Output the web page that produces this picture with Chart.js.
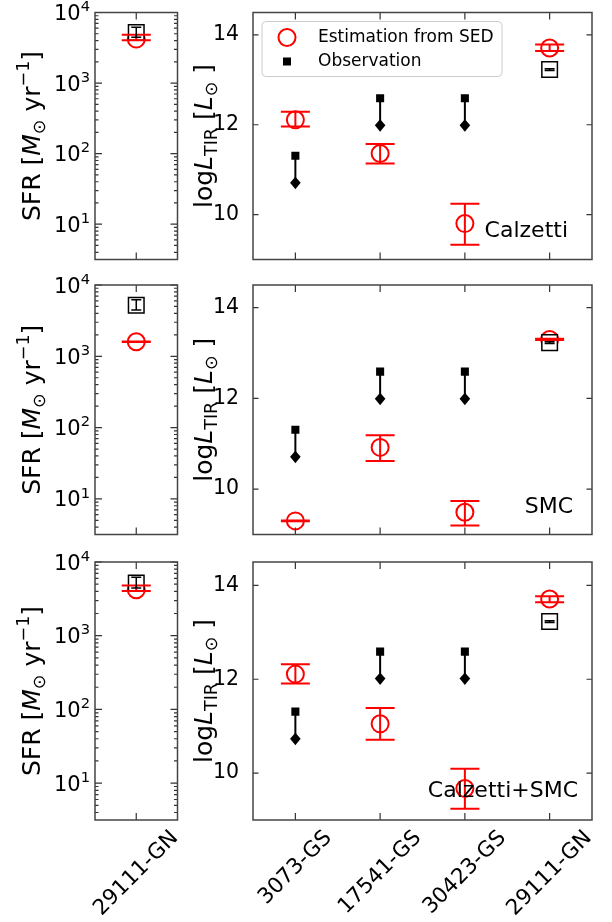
<!DOCTYPE html>
<html>
<head>
<meta charset="utf-8">
<script src="https://cdn.jsdelivr.net/npm/chart.js@4.4.0/dist/chart.umd.min.js"></script>
<style>
  html, body { margin: 0; padding: 0; background: #fff; }
  #page { position: relative; width: 612px; height: 922px; overflow: hidden; }
  canvas { position: absolute; display: block; }
</style>
</head>
<body>
<div id="page">
  <canvas id="sfr0" width="190" height="272" style="left:0;top:0"></canvas>
  <canvas id="tir0" width="422" height="272" style="left:190px;top:0"></canvas>
  <canvas id="sfr1" width="190" height="277" style="left:0;top:270px"></canvas>
  <canvas id="tir1" width="422" height="277" style="left:190px;top:270px"></canvas>
  <canvas id="sfr2" width="190" height="375" style="left:0;top:547px"></canvas>
  <canvas id="tir2" width="422" height="375" style="left:190px;top:547px"></canvas>
</div>
<script>
// galaxies and dust models
const galaxies = ['3073-GS', '17541-GS', '30423-GS', '29111-GN'];
const sfrGalaxy = ['29111-GN'];
const modelNames = ['Calzetti', 'SMC', 'Calzetti+SMC'];

// log L_TIR from the SED fit (value, lower, upper)
const tirCalzetti   = [12.11, 11.36, 9.80, 13.71];
const tirCalzettiLo = [11.96, 11.14, 9.33, 13.64];
const tirCalzettiHi = [12.29, 11.57, 10.24, 13.79];
const tirSMC   = [9.30, 10.92, 9.49, 13.30];
const tirSMCLo = [9.29, 10.62, 9.20, 13.285];
const tirSMCHi = [9.31, 11.19, 9.74, 13.315];
const tirCalSMC   = [12.11, 11.05, 9.67, 13.71];
const tirCalSMCLo = [11.91, 10.71, 9.24, 13.64];
const tirCalSMCHi = [12.32, 11.39, 10.09, 13.77];

// observed L_TIR: upper limits, and a detection for 29111-GN
const tirObsLimit = [11.31, 12.59, 12.59, null];
const tirObs   = [null, null, null, 13.23];
const tirObsLo = [null, null, null, 13.21];
const tirObsHi = [null, null, null, 13.25];

// SFR of 29111-GN
const sfrObs   = [5200];
const sfrObsLo = [4450];
const sfrObsHi = [6200];
const sfrCalzetti   = [4200];
const sfrCalzettiLo = [4050];
const sfrCalzettiHi = [4850];
const sfrSMC   = [1600];
const sfrSMCLo = [1590];
const sfrSMCHi = [1610];
const sfrCalSMC   = [4200];
const sfrCalSMCLo = [4050];
const sfrCalSMCHi = [4800];

const tirTicks = [10, 12, 14];
const sfrTicks = [10, 100, 1000, 10000];

const FONT = "'DejaVu Sans', sans-serif";
const RED = '#ff0000';
Chart.defaults.font.family = FONT;
Chart.defaults.color = '#000';

function pts(labels, vals, lo, hi) {
  const out = [];
  labels.forEach((l, i) => {
    if (vals[i] == null) return;
    out.push({ x: l, y: vals[i], lo: lo ? lo[i] : null, hi: hi ? hi[i] : null });
  });
  return out;
}

function runFont(r, size) {
  const px = (r.s === 'sub' || r.s === 'sup') ? size * 0.7 : size;
  return (r.s === 'i' ? 'italic ' : '') + px + 'px ' + FONT;
}
function drawRich(ctx, runs, x, y, size, align) {
  let w = 0;
  runs.forEach(r => { ctx.font = runFont(r, size); w += ctx.measureText(r.t).width; });
  let cx = align === 'right' ? x - w : align === 'center' ? x - w / 2 : x;
  ctx.textAlign = 'left';
  ctx.textBaseline = 'alphabetic';
  runs.forEach(r => {
    ctx.font = runFont(r, size);
    const dy = r.s === 'sub' ? 0.22 * size : r.s === 'sup' ? -0.42 * size : 0;
    ctx.fillText(r.t, cx, y + dy);
    cx += ctx.measureText(r.t).width;
  });
}

// error bars and upper-limit arrows
const errorBars = {
  id: 'errorBars',
  afterDatasetsDraw(chart) {
    const { ctx } = chart;
    const ys = chart.scales.y;
    ctx.save();
    chart.data.datasets.forEach((ds, i) => {
      const meta = chart.getDatasetMeta(i);
      if (ds.capHalf) {
        ctx.strokeStyle = ds.borderColor;
        ctx.lineWidth = ds.errWidth;
        meta.data.forEach((el, j) => {
          const d = ds.data[j];
          const y1 = ys.getPixelForValue(d.lo), y2 = ys.getPixelForValue(d.hi);
          ctx.beginPath();
          ctx.moveTo(el.x, y1); ctx.lineTo(el.x, y2);
          ctx.moveTo(el.x - ds.capHalf, y1); ctx.lineTo(el.x + ds.capHalf, y1);
          ctx.moveTo(el.x - ds.capHalf, y2); ctx.lineTo(el.x + ds.capHalf, y2);
          ctx.stroke();
        });
      }
      if (ds.arrow) {
        ctx.strokeStyle = '#000';
        ctx.fillStyle = '#000';
        ctx.lineWidth = 2;
        meta.data.forEach(el => {
          const tip = el.y + ds.arrow;
          ctx.beginPath();
          ctx.moveTo(el.x, el.y); ctx.lineTo(el.x, tip);
          ctx.stroke();
          ctx.beginPath();
          ctx.moveTo(el.x, tip - 6); ctx.lineTo(el.x + 5.3, tip);
          ctx.lineTo(el.x, tip + 6.5); ctx.lineTo(el.x - 5.3, tip);
          ctx.closePath(); ctx.fill();
        });
      }
    });
    ctx.restore();
  }
};

// frame, inward ticks, rich labels, note, legend
function makeDecor(cfg) {
  return {
    id: 'decor',
    afterDraw(chart) {
      const { ctx, chartArea: a } = chart;
      const xs = chart.scales.x, ys = chart.scales.y;
      ctx.save();
      ctx.strokeStyle = '#333';
      ctx.lineWidth = 1.2;
      ctx.beginPath();
      xs.ticks.forEach((t, i) => {
        const px = xs.getPixelForTick(i);
        ctx.moveTo(px, a.top); ctx.lineTo(px, a.top + 7);
        ctx.moveTo(px, a.bottom); ctx.lineTo(px, a.bottom - 7);
      });
      cfg.major.forEach(v => {
        const py = ys.getPixelForValue(v);
        ctx.moveTo(a.left, py); ctx.lineTo(a.left + cfg.majorLen, py);
        ctx.moveTo(a.right, py); ctx.lineTo(a.right - cfg.majorLen, py);
      });
      (cfg.minor || []).forEach(v => {
        const py = ys.getPixelForValue(v);
        if (py < a.top || py > a.bottom) return;
        ctx.moveTo(a.left, py); ctx.lineTo(a.left + 3.5, py);
        ctx.moveTo(a.right, py); ctx.lineTo(a.right - 3.5, py);
      });
      ctx.stroke();
      ctx.strokeStyle = '#444';
      ctx.lineWidth = 1.5;
      ctx.strokeRect(a.left, a.top, a.width, a.height);

      ctx.fillStyle = '#000';
      if (cfg.logLabels) {
        cfg.major.forEach(v => {
          const py = ys.getPixelForValue(v);
          drawRich(ctx, [{ t: '10', s: 'n' }, { t: String(Math.round(Math.log10(v))), s: 'sup' }],
            a.left - 5, py + 7.5, 21, 'right');
        });
      }
      // y title
      ctx.save();
      ctx.translate(cfg.titleX, (a.top + a.bottom) / 2);
      ctx.rotate(-Math.PI / 2);
      drawRich(ctx, cfg.title, 0, 0, 25, 'center');
      ctx.restore();
      // rotated category labels
      if (cfg.xLabels) {
        ctx.font = '21.5px ' + FONT;
        ctx.textAlign = 'center';
        ctx.textBaseline = 'middle';
        xs.ticks.forEach((t, i) => {
          const lab = xs.getLabelForValue(t.value);
          const w = ctx.measureText(lab).width;
          const half = (w / 2 + 11) * Math.SQRT1_2;
          ctx.save();
          ctx.translate(xs.getPixelForTick(i), a.bottom + 7 + half);
          ctx.rotate(-Math.PI / 4);
          ctx.fillText(lab, 0, 0);
          ctx.restore();
        });
      }
      if (cfg.note) {
        ctx.font = '22px ' + FONT;
        ctx.textAlign = 'right';
        ctx.textBaseline = 'alphabetic';
        ctx.fillText(cfg.note.text, a.right - cfg.note.dx, a.bottom - cfg.note.dy);
      }
      if (cfg.legend) {
        const L = cfg.legend;
        ctx.beginPath();
        ctx.roundRect(a.left + L.x, a.top + L.y, L.w, L.h, 4);
        ctx.fillStyle = 'rgba(255,255,255,0.85)';
        ctx.fill();
        ctx.strokeStyle = '#cccccc';
        ctx.lineWidth = 1;
        ctx.stroke();
        const mx = a.left + L.x + 25, y1 = a.top + L.y + 16, y2 = a.top + L.y + 40;
        ctx.beginPath();
        ctx.arc(mx, y1, 8.5, 0, Math.PI * 2);
        ctx.strokeStyle = RED; ctx.lineWidth = 2; ctx.stroke();
        ctx.fillStyle = '#000';
        ctx.fillRect(mx - 4, y2 - 4, 8, 8);
        ctx.font = '17px ' + FONT;
        ctx.textAlign = 'left';
        ctx.textBaseline = 'middle';
        ctx.fillText(chart.data.datasets[0].label, a.left + L.x + 56, y1);
        ctx.fillText(chart.data.datasets[2].label, a.left + L.x + 56, y2);
      }
      ctx.restore();
    }
  };
}

const sfrTitle = [{ t: 'SFR [', s: 'n' }, { t: 'M', s: 'i' }, { t: '\u2299', s: 'sub' },
  { t: ' yr', s: 'n' }, { t: '\u22121', s: 'sup' }, { t: ']', s: 'n' }];
const tirTitle = [{ t: 'log', s: 'n' }, { t: 'L', s: 'i' }, { t: 'TIR', s: 'sub' },
  { t: ' [', s: 'n' }, { t: 'L', s: 'i' }, { t: '\u2299', s: 'sub' }, { t: ' ]', s: 'n' }];

const sfrMinor = [];
[1, 10, 100, 1000].forEach(d => { for (let k = 2; k <= 9; k++) sfrMinor.push(k * d); });

// canvas geometry per row: top padding and height left for the x axis
const rowGeom = [
  { padTop: 10, axisH: 4 },
  { padTop: 15, axisH: 4 },
  { padTop: 15, axisH: 102 }
];

const rows = [
  { sfr: [sfrCalzetti, sfrCalzettiLo, sfrCalzettiHi], tir: [tirCalzetti, tirCalzettiLo, tirCalzettiHi],
    note: { text: modelNames[0], dx: 24, dy: 23 }, legend: { x: 9, y: 9, w: 240, h: 55 } },
  { sfr: [sfrSMC, sfrSMCLo, sfrSMCHi], tir: [tirSMC, tirSMCLo, tirSMCHi],
    note: { text: modelNames[1], dx: 19, dy: 21.5 } },
  { sfr: [sfrCalSMC, sfrCalSMCLo, sfrCalSMCHi], tir: [tirCalSMC, tirCalSMCLo, tirCalSMCHi],
    note: { text: modelNames[2], dx: 14, dy: 23 } }
];

function datasets(labels, est, obs, limits) {
  const list = [
    { label: 'Estimation from SED', data: pts(labels, est[0], est[1], est[2]),
      pointStyle: 'circle', pointRadius: 8.5, borderColor: RED, borderWidth: 2,
      backgroundColor: 'rgba(0,0,0,0)', capHalf: 14.5, errWidth: 2, order: 2 },
    { label: 'Observation detected', data: pts(labels, obs[0], obs[1], obs[2]),
      pointStyle: 'rect', pointRadius: 11, borderColor: '#000', borderWidth: 1.5,
      backgroundColor: '#fff', capHalf: 5, errWidth: 1.5, order: 1 }
  ];
  list.push({ label: 'Observation', data: limits ? pts(labels, limits) : [],
    pointStyle: 'rect', pointRadius: 5.7, borderWidth: 0, borderColor: '#000',
    backgroundColor: '#000', arrow: 27, order: 1 });
  return list;
}

function baseOptions(labels, yScale, g, yWidth, rightPad) {
  return {
    responsive: false,
    animation: false,
    events: [],
    layout: { padding: { top: g.padTop, right: rightPad, left: 0, bottom: 0 } },
    plugins: { legend: { display: false }, tooltip: { enabled: false } },
    scales: {
      x: {
        type: 'category', labels: labels, offset: true,
        grid: { display: false }, border: { display: false },
        ticks: { display: false },
        afterFit: s => { s.height = g.axisH; s.paddingLeft = 0; s.paddingRight = 0; }
      },
      y: Object.assign(yScale, {
        grid: { display: false }, border: { display: false },
        afterFit: s => { s.width = yWidth; s.paddingTop = 0; s.paddingBottom = 0; }
      })
    }
  };
}

rows.forEach((r, i) => {
  const g = rowGeom[i];
  const last = i === rows.length - 1;

  new Chart(document.getElementById('sfr' + i), {
    type: 'scatter',
    data: { datasets: datasets(sfrGalaxy, r.sfr, [sfrObs, sfrObsLo, sfrObsHi], null) },
    options: baseOptions(sfrGalaxy, {
      type: 'logarithmic', min: Math.pow(10, 0.5), max: 10000,
      ticks: { display: false }
    }, g, 95, 11),
    plugins: [errorBars, makeDecor({ major: sfrTicks, minor: sfrMinor, majorLen: 7, logLabels: true,
      title: sfrTitle, titleX: 39.5, xLabels: last })]
  });

  new Chart(document.getElementById('tir' + i), {
    type: 'scatter',
    data: { datasets: datasets(galaxies, r.tir, [tirObs, tirObsLo, tirObsHi], tirObsLimit) },
    options: baseOptions(galaxies, {
      type: 'linear', min: 9, max: 14.5,
      afterBuildTicks: s => { s.ticks = tirTicks.map(v => ({ value: v })); },
      ticks: { padding: 6, font: { size: 20.5 }, color: '#000' }
    }, g, 63, 20),
    plugins: [errorBars, makeDecor({ major: tirTicks, majorLen: 5.5, title: tirTitle, titleX: 21.5,
      xLabels: last, note: r.note, legend: r.legend })]
  });
});
</script>
</body>
</html>
